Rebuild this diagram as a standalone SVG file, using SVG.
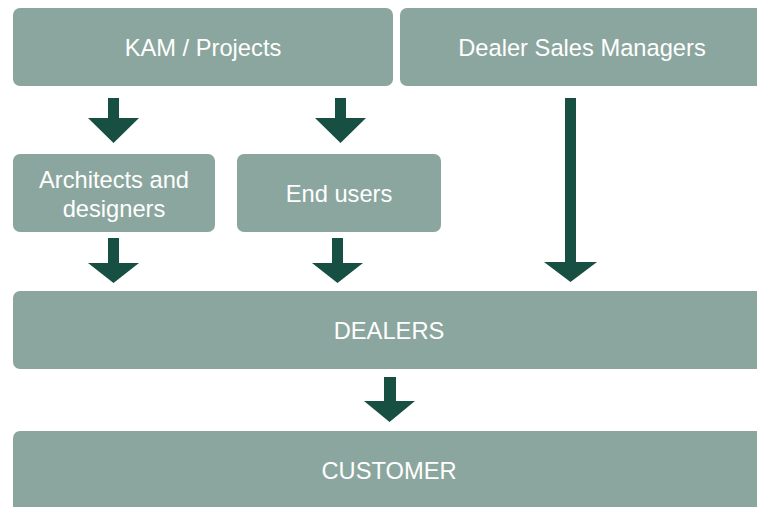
<svg xmlns="http://www.w3.org/2000/svg" width="757" height="507" viewBox="0 0 757 507">
<style>
.box{fill:#8BA69E}
.lbl{fill:#ffffff;font-family:"Liberation Sans",Arial,sans-serif;font-size:23.7px;text-anchor:middle}
.arr{fill:#174F42}
</style>
<rect width="757" height="507" fill="#ffffff"/>
<g id="kam"><rect class="box" x="13" y="8" width="380" height="78" rx="7"/><text class="lbl" x="203" y="56">KAM / Projects</text></g>
<g id="dsm"><rect class="box" x="400" y="8" width="380" height="78" rx="7"/><text class="lbl" x="582" y="56">Dealer Sales Managers</text></g>
<g id="architects"><rect class="box" x="13" y="154" width="202" height="78" rx="7"/><text class="lbl" x="114" y="188">Architects and</text><text class="lbl" x="114" y="217">designers</text></g>
<g id="endusers"><rect class="box" x="237" y="154" width="204" height="78" rx="7"/><text class="lbl" x="339" y="202">End users</text></g>
<g id="dealers"><rect class="box" x="13" y="291" width="780" height="78" rx="7"/><text class="lbl" x="389" y="339">DEALERS</text></g>
<g id="customer"><rect class="box" x="13" y="431" width="780" height="90" rx="7"/><text class="lbl" x="389" y="479">CUSTOMER</text></g>
<g id="connectors">
<path class="arr" d="M108 98H119V118H139L113.5 143L88 118H108Z"/>
<path class="arr" d="M335 98H346V118H366L340.5 143L315 118H335Z"/>
<path class="arr" d="M108 238H119V263H139L113.5 283L88 263H108Z"/>
<path class="arr" d="M332 238H343V263H363L337.5 283L312 263H332Z"/>
<path class="arr" d="M565 98H576V262H597L570.5 282L544 262H565Z"/>
<path class="arr" d="M384 377H396V401H415L389.5 422L364 401H384Z"/>
</g>
</svg>
